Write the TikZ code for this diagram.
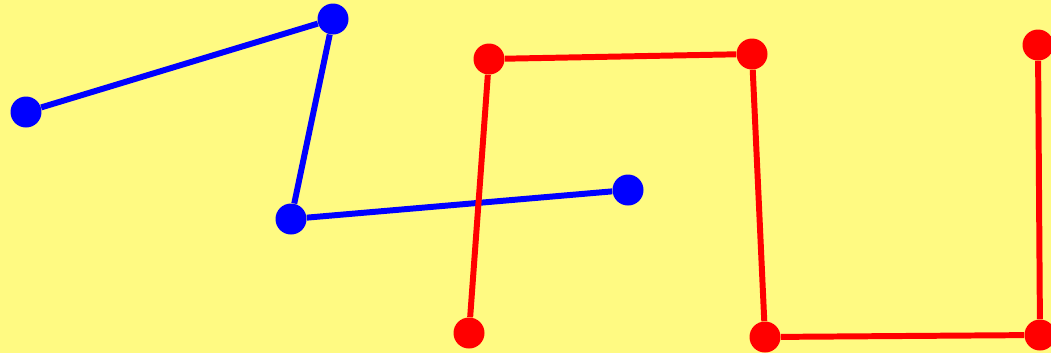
\documentclass[tikz,border=0pt]{standalone}
\usepackage{xcolor}
\usetikzlibrary{positioning}
\definecolor{bgyellow}{RGB}{255,250,130}
\tikzset{
  dot/.style={circle,fill,inner sep=0pt,minimum size=6.2mm},
  bluedot/.style={dot,blue},
  reddot/.style={dot,red},
  blueline/.style={draw=blue,line width=3.4pt},
  redline/.style={draw=red,line width=3.4pt}
}

\begin{document}
\begin{tikzpicture}[x=0.02cm,y=-0.02cm]
  \fill[bgyellow] (0,0) rectangle (1051,353);
  \useasboundingbox (0,0) rectangle (1051,353);
  % blue path
  \node[bluedot] (b1) at (26,112) {};
  \node[bluedot] (b2) at (333,19) {};
  \node[bluedot] (b3) at (291,219) {};
  \node[bluedot] (b4) at (628,190) {};
  \draw[blueline] (b1)--(b2);
  \draw[blueline] (b2)--(b3);
  \draw[blueline] (b3)--(b4);
  % red path
  \node[reddot] (r1) at (469,333) {};
  \node[reddot] (r2) at (489,59) {};
  \node[reddot] (r3) at (752,54) {};
  \node[reddot] (r4) at (765,337) {};
  \node[reddot] (r5) at (1040,335) {};
  \node[reddot] (r6) at (1038,45) {};
  \draw[redline] (r1)--(r2);
  \draw[redline] (r2)--(r3);
  \draw[redline] (r3)--(r4);
  \draw[redline] (r4)--(r5);
  \draw[redline] (r5)--(r6);
\end{tikzpicture}
\end{document}
